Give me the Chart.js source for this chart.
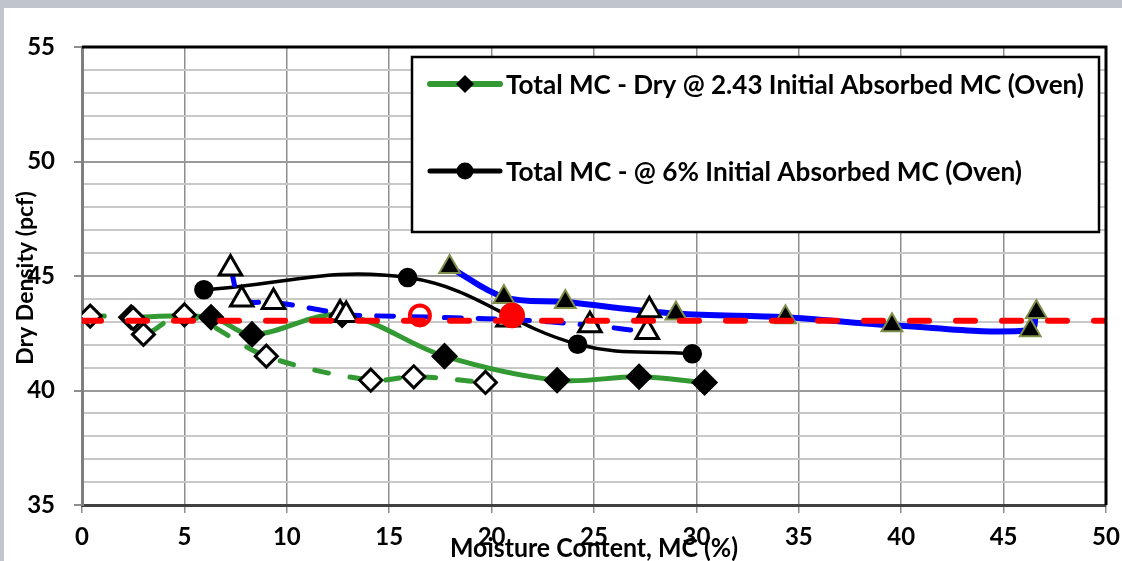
<!DOCTYPE html>
<html>
<head>
<meta charset="utf-8">
<script src="https://cdn.jsdelivr.net/npm/chart.js@4/dist/chart.umd.min.js"></script>
<style>
    html, body { margin: 0; padding: 0; background: #fff; }
    #wrap { width: 1122px; height: 561px; }
</style>
</head>
<body>
<div id="wrap"><canvas id="densityChart" width="1122" height="561"></canvas></div>
<script>
// Axis ticks
const xTickValues = [0, 5, 10, 15, 20, 25, 30, 35, 40, 45, 50];
const yTickValues = [35, 40, 45, 50, 55];

// Total MC - Dry @ 2.43 Initial Absorbed MC (Oven) - green solid, filled diamonds
const dryOvenMC = [2.4, 6.3, 8.3, 12.7, 17.7, 23.2, 27.2, 30.4];
const dryOvenDensity = [43.2, 43.2, 42.45, 43.3, 41.5, 40.45, 40.6, 40.35];

// green dashed, open diamonds
const dryMC = [0.4, 2.5, 3.0, 5.0, 9.0, 14.1, 16.2, 19.7];
const dryDensity = [43.25, 43.15, 42.45, 43.3, 41.5, 40.45, 40.6, 40.35];

// Total MC - @ 6% Initial Absorbed MC (Oven) - black, circles
const sixPctMC = [5.95, 15.9, 24.2, 29.8];
const sixPctDensity = [44.4, 44.93, 42.02, 41.6];

// blue solid, filled triangles
const blueSolidMC = [17.95, 20.6, 23.6, 29.0, 34.35, 39.55, 46.3, 46.6];
const blueSolidDensity = [45.39, 44.08, 43.86, 43.36, 43.2, 42.85, 42.63, 43.43];

// blue dashed, open triangles
const blueDashMC = [7.25, 7.8, 9.35, 12.6, 12.9, 20.8, 24.8, 27.6];
const blueDashDensity = [45.33, 43.97, 43.86, 43.36, 43.3, 43.1, 42.85, 42.55];
const extraTriMC = [27.7];
const extraTriDensity = [43.5];

// red reference line + red circles
const refMC = [0, 50];
const refDensity = [43.05, 43.05];
const redOpenMC = [16.5];
const redOpenDensity = [43.28];
const redFilledMC = [21.0];
const redFilledDensity = [43.28];

const FONT = "Lato, 'Liberation Sans', sans-serif";

function pts(xs, ys) {
    return xs.map((x, i) => ({ x: x, y: ys[i] }));
}

// Background + frame, legend box and axis titles
const decorPlugin = {
    id: 'decor',
    beforeDraw(chart) {
        const ctx = chart.ctx;
        ctx.save();
        ctx.fillStyle = '#c0c4cc';
        ctx.fillRect(0, 0, chart.width, chart.height);
        ctx.fillStyle = '#ffffff';
        ctx.fillRect(4, 8, chart.width - 4, chart.height - 8);
        ctx.restore();
    },
    afterDraw(chart) {
        const ctx = chart.ctx;
        const a = chart.chartArea;
        ctx.save();

        // top + right plot border
        ctx.strokeStyle = '#000';
        ctx.lineWidth = 3;
        ctx.beginPath();
        ctx.moveTo(a.left, a.top);
        ctx.lineTo(a.right, a.top);
        ctx.lineTo(a.right, a.bottom);
        ctx.stroke();

        // legend box
        const lx = 412, ly = 57, lw = 687, lh = 175;
        ctx.fillStyle = '#fff';
        ctx.fillRect(lx, ly, lw, lh);
        ctx.lineWidth = 2.5;
        ctx.strokeRect(lx, ly, lw, lh);

        const entries = [
            { ds: chart.data.datasets[8], y: 84, width: 578, lw: 6 },
            { ds: chart.data.datasets[6], y: 171, width: 516, lw: 5 }
        ];
        entries.forEach(e => {
            ctx.strokeStyle = e.ds.borderColor;
            ctx.lineWidth = e.lw;
            ctx.lineCap = 'round';
            ctx.beginPath();
            ctx.moveTo(430, e.y);
            ctx.lineTo(500, e.y);
            ctx.stroke();
            ctx.fillStyle = '#000';
            ctx.beginPath();
            if (e.ds.pointStyle === 'rectRot') {
                const r = 9;
                ctx.moveTo(465, e.y - r);
                ctx.lineTo(465 + r, e.y);
                ctx.lineTo(465, e.y + r);
                ctx.lineTo(465 - r, e.y);
                ctx.closePath();
            } else {
                ctx.arc(465, e.y, 8.5, 0, Math.PI * 2);
            }
            ctx.fill();
            ctx.font = 'bold 27px ' + FONT;
            ctx.textBaseline = 'middle';
            ctx.textAlign = 'left';
            ctx.fillText(e.ds.label, 506, e.y + 1, e.width);
        });

        // axis titles
        ctx.fillStyle = '#000';
        ctx.textAlign = 'center';
        ctx.textBaseline = 'middle';
        ctx.font = 'bold 26px ' + FONT;
        ctx.fillText('Moisture Content, MC (%)', 594, 549, 288);

        ctx.translate(26, 278);
        ctx.rotate(-Math.PI / 2);
        ctx.font = 'bold 23px ' + FONT;
        ctx.fillText('Dry Density (pcf)', 0, 0, 192);
        ctx.restore();
    }
};

const ctx = document.getElementById('densityChart').getContext('2d');

new Chart(ctx, {
    type: 'scatter',
    data: {
        datasets: [
            {   // 0
                label: 'Red filled',
                data: pts(redFilledMC, redFilledDensity),
                pointStyle: 'circle',
                pointRadius: 12.5,
                pointBackgroundColor: '#ff0000',
                pointBorderColor: '#ff0000',
                pointBorderWidth: 1,
                showLine: false
            },
            {   // 1
                label: 'Red open',
                data: pts(redOpenMC, redOpenDensity),
                pointStyle: 'circle',
                pointRadius: 10,
                pointBackgroundColor: 'rgba(0,0,0,0)',
                pointBorderColor: '#ff0000',
                pointBorderWidth: 4,
                showLine: false
            },
            {   // 2
                label: 'Reference',
                data: pts(refMC, refDensity),
                showLine: true,
                borderColor: '#ff0000',
                borderWidth: 6,
                borderDash: [19, 27],
                borderCapStyle: 'round',
                pointRadius: 0
            },
            {   // 3
                label: 'Blue dashed',
                data: pts(blueDashMC, blueDashDensity),
                showLine: true,
                borderColor: '#0000ff',
                borderWidth: 5,
                borderDash: [17, 17],
                borderCapStyle: 'round',
                tension: 0.35,
                pointStyle: 'triangle',
                pointRadius: 13,
                pointBackgroundColor: '#ffffff',
                pointBorderColor: '#000000',
                pointBorderWidth: 3
            },
            {   // 4
                label: 'Blue extra',
                data: pts(extraTriMC, extraTriDensity),
                showLine: false,
                pointStyle: 'triangle',
                pointRadius: 13,
                pointBackgroundColor: '#ffffff',
                pointBorderColor: '#000000',
                pointBorderWidth: 3
            },
            {   // 5
                label: 'Blue solid',
                data: pts(blueSolidMC, blueSolidDensity),
                showLine: true,
                borderColor: '#0000ff',
                borderWidth: 6,
                borderCapStyle: 'round',
                tension: 0.35,
                pointStyle: 'triangle',
                pointRadius: 12,
                pointBackgroundColor: '#000000',
                pointBorderColor: '#7f8f4a',
                pointBorderWidth: 2
            },
            {   // 6
                label: 'Total MC - @ 6% Initial Absorbed MC (Oven)',
                data: pts(sixPctMC, sixPctDensity),
                showLine: true,
                borderColor: '#000000',
                borderWidth: 3.5,
                tension: 0.4,
                pointStyle: 'circle',
                pointRadius: 8,
                pointBackgroundColor: '#000000',
                pointBorderColor: '#000000'
            },
            {   // 7
                label: 'Green dashed',
                data: pts(dryMC, dryDensity),
                showLine: true,
                borderColor: '#339933',
                borderWidth: 5,
                borderDash: [14, 22],
                borderCapStyle: 'round',
                tension: 0.35,
                pointStyle: 'rectRot',
                pointRadius: 11,
                pointBackgroundColor: '#ffffff',
                pointBorderColor: '#000000',
                pointBorderWidth: 3
            },
            {   // 8
                label: 'Total MC - Dry @ 2.43 Initial Absorbed MC (Oven)',
                data: pts(dryOvenMC, dryOvenDensity),
                showLine: true,
                borderColor: '#339933',
                borderWidth: 5,
                borderCapStyle: 'round',
                tension: 0.35,
                pointStyle: 'rectRot',
                pointRadius: 10,
                pointBackgroundColor: '#000000',
                pointBorderColor: '#000000'
            }
        ]
    },
    options: {
        responsive: false,
        animation: false,
        layout: { padding: { left: 0, top: 47, right: 15, bottom: 0 } },
        plugins: {
            legend: { display: false },
            tooltip: { enabled: false }
        },
        scales: {
            x: {
                type: 'linear',
                min: 0,
                max: 50,
                afterFit: s => {
                    s.height = 56;
                    s.paddingLeft = 0;
                    s.paddingRight = 0;
                },
                afterBuildTicks: s => { s.ticks = xTickValues.map(v => ({ value: v })); },
                ticks: {
                    padding: 10,
                    color: '#000',
                    autoSkip: false,
                    font: { family: FONT, size: 24, weight: 'bold' },
                    maxRotation: 0
                },
                grid: {
                    color: '#8e8e8e',
                    lineWidth: 1.5,
                    tickLength: 8,
                    tickColor: '#8e8e8e'
                },
                border: { color: '#404040', width: 3 }
            },
            y: {
                type: 'linear',
                min: 35,
                max: 55,
                afterFit: s => {
                    s.width = 82;
                    s.paddingTop = 0;
                    s.paddingBottom = 0;
                },
                afterBuildTicks: s => {
                    const t = [];
                    for (let v = yTickValues[0]; v <= yTickValues[yTickValues.length - 1]; v++) t.push({ value: v });
                    s.ticks = t;
                },
                ticks: {
                    padding: 19,
                    color: '#000',
                    autoSkip: false,
                    font: { family: FONT, size: 24, weight: 'bold' },
                    callback: v => (yTickValues.includes(v) ? v : '')
                },
                grid: {
                    color: c => (c.tick && yTickValues.includes(c.tick.value) ? '#9a9a9a' : '#c8c8c8'),
                    lineWidth: 2,
                    tickLength: 8,
                    tickColor: c => (c.tick && yTickValues.includes(c.tick.value) ? '#8e8e8e' : 'rgba(0,0,0,0)')
                },
                border: { color: '#7f7f7f', width: 3 }
            }
        }
    },
    plugins: [decorPlugin]
});
</script>
</body>
</html>
